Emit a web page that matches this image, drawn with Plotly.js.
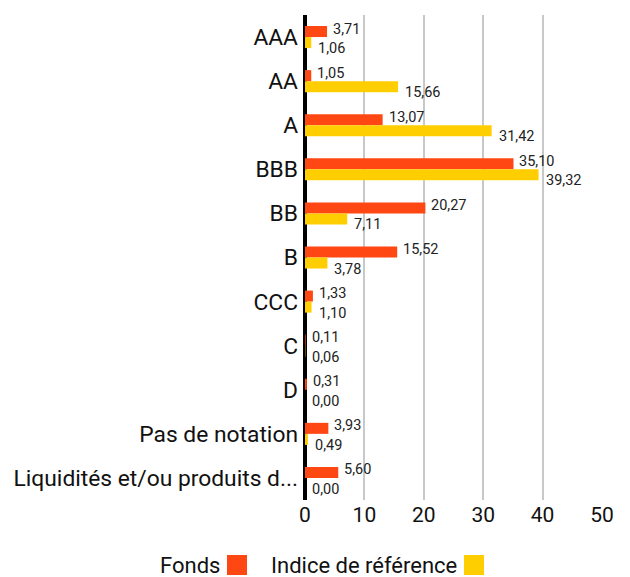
<!DOCTYPE html>
<html><head><meta charset="utf-8">
<script src="https://cdn.plot.ly/plotly-3.0.1.min.js"></script>
<style>body{margin:0;background:#fff}#c{width:630px;height:577px}</style>
</head><body><div id="c"></div>
<script>
const categories = ["AAA","AA","A","BBB","BB","B","CCC","C","D","Pas de notation","Liquidités et/ou produits d..."];
const fonds = [3.71,1.05,13.07,35.10,20.27,15.52,1.33,0.11,0.31,3.93,5.60];
const indice = [1.06,15.66,31.42,39.32,7.11,3.78,1.10,0.06,0.00,0.49,0.00];
const seriesNames = ["Fonds","Indice de référence"];
const colors = ["#FF4713","#FFCE00"];

const W=630,H=577,L=305,R=28,T=15,B=77;
const pw=W-L-R, ph=H-T-B;
const px=x=>(x-L)/pw, py=y=>(H-B-y)/ph;
const fmt=v=>v.toFixed(2).replace('.',',');
const font="Roboto, 'Noto Sans', sans-serif";

const traces=[fonds,indice].map((vals,i)=>({
  type:'bar',orientation:'h',y:categories,x:vals,name:seriesNames[i],
  marker:{color:colors[i]},hoverinfo:'none',showlegend:false
}));

const ann=[];
categories.forEach((c,k)=>{
  ann.push({x:fonds[k],y:c,xref:'x',yref:'y',text:fmt(fonds[k]),showarrow:false,xanchor:'left',yanchor:'middle',xshift:4,yshift:8,font:{size:14.5,color:'#222',family:font}});
  ann.push({x:indice[k],y:c,xref:'x',yref:'y',text:fmt(indice[k]),showarrow:false,xanchor:'left',yanchor:'middle',xshift:5,yshift:-11.5,font:{size:14.5,color:'#222',family:font}});
});
// legend (text then swatch)
ann.push({x:px(222),y:py(565),xref:'paper',yref:'paper',text:seriesNames[0],showarrow:false,xanchor:'right',yanchor:'middle',font:{size:22,color:'#111',family:font}});
ann.push({x:px(459),y:py(565),xref:'paper',yref:'paper',text:seriesNames[1],showarrow:false,xanchor:'right',yanchor:'middle',font:{size:22,color:'#111',family:font}});
const shapes=[
  {type:'rect',xref:'paper',yref:'paper',x0:px(227),x1:px(247),y0:py(555),y1:py(575),fillcolor:colors[0],line:{width:0}},
  {type:'rect',xref:'paper',yref:'paper',x0:px(464),x1:px(484),y0:py(555),y1:py(575),fillcolor:colors[1],line:{width:0}}
];

Plotly.newPlot('c',traces,{
  width:W,height:H,margin:{l:L,r:R,t:T,b:B},
  paper_bgcolor:'#fff',plot_bgcolor:'#fff',
  barmode:'group',bargap:0.5,bargroupgap:0,
  font:{family:font,color:'#111'},
  xaxis:{range:[0,50],dtick:10,tick0:0,showgrid:true,gridcolor:'#C8C8C8',gridwidth:2,
    zeroline:true,zerolinecolor:'#000',zerolinewidth:4,showline:false,ticks:'',
    tickfont:{size:21,color:'#111'},fixedrange:true},
  yaxis:{autorange:'reversed',type:'category',showgrid:false,zeroline:false,showline:false,ticks:'',
    ticklabelstandoff:6,tickfont:{size:22.8,color:'#111'},fixedrange:true},
  annotations:ann,shapes:shapes,showlegend:false
},{staticPlot:true});
</script></body></html>
